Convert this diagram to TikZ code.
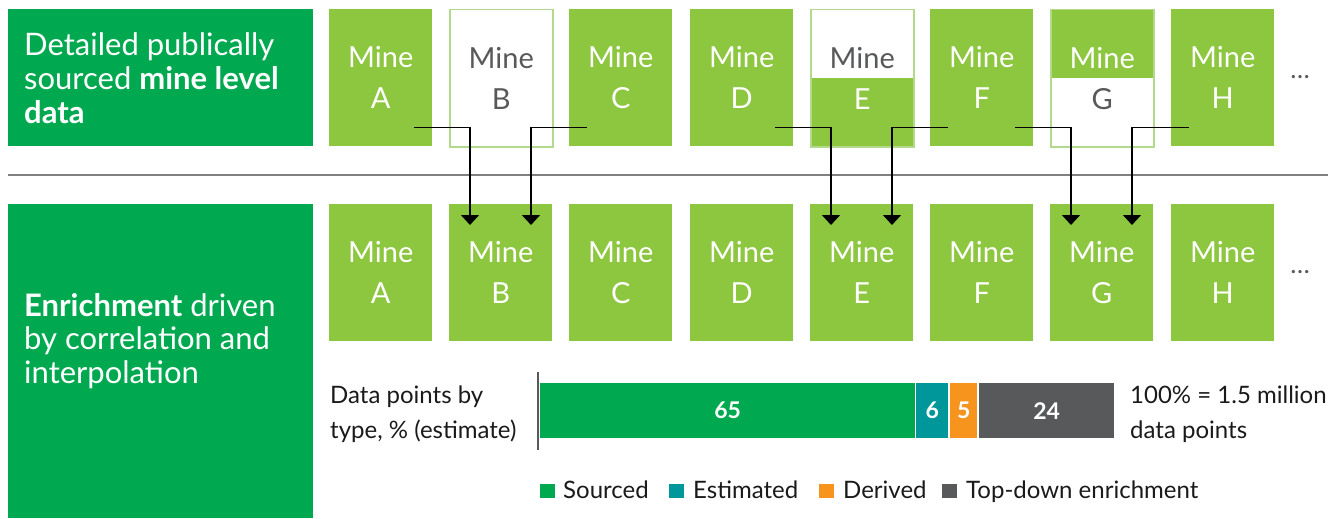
\documentclass[tikz,border=0pt]{standalone}
\usepackage{fontspec}
\setmainfont{Lato}
\usetikzlibrary{arrows.meta}
\definecolor{dgreen}{HTML}{00A94F}
\definecolor{lgreen}{HTML}{8DC63F}
\definecolor{outl}{HTML}{B3D98C}
\definecolor{tealc}{HTML}{00979A}
\definecolor{orangec}{HTML}{F7941D}
\definecolor{dgray}{HTML}{58595B}
\definecolor{sepgray}{HTML}{808080}
\definecolor{txt}{HTML}{1A1A1A}
\begin{document}
\begin{tikzpicture}[x=1pt,y=-1pt,
  minebox/.style={rectangle, minimum width=103pt, minimum height=137pt, inner sep=0pt,
    anchor=north west, align=center, font=\fontsize{29}{41}\selectfont},
  minefull/.style={minebox, fill=lgreen, text=white},
  mineempty/.style={minebox, fill=white, draw=outl, line width=1.5pt, text=dgray},
  uppwhite/.style={minebox, fill=lgreen, draw=outl, line width=1.5pt, text=white,
    path picture={\fill[white] (path picture bounding box.north west) rectangle (path picture bounding box.east);}},
  lowwhite/.style={minebox, fill=white, draw=outl, line width=1.5pt, text=white,
    path picture={\fill[lgreen] (path picture bounding box.north west) rectangle (path picture bounding box.east);}},
  headbox/.style={rectangle, fill=dgreen, inner sep=0pt, anchor=north west},
  headtxt/.style={anchor=base west, inner sep=0pt, align=left, text=white, font=\fontsize{31}{34}\selectfont},
  conn/.style={draw=black, line width=1.5pt, -{Triangle[width=18pt,length=10pt]}},
  seg/.style={rectangle, inner sep=0pt, minimum height=55pt, anchor=north west, text=white,
    font=\fontsize{23}{26}\selectfont\bfseries},
  lbl/.style={anchor=base west, inner sep=0pt, align=left, text=txt, font=\fontsize{24}{35}\selectfont},
  legsq/.style={rectangle, inner sep=0pt, minimum width=15pt, minimum height=14pt, anchor=north west},
  legtxt/.style={anchor=base west, inner sep=0pt, text=txt, font=\fontsize{24}{26}\selectfont},
  dots/.style={anchor=center, inner sep=0pt, text=dgray, font=\fontsize{26}{30}\selectfont}
]
\useasboundingbox (0,0) rectangle (1328,519);

% left headers
\node[headbox, minimum width=305pt, minimum height=137pt] (h1) at (8,9) {};
\node[headtxt] (h1t) at (24,123) {Detailed publically\\sourced \textbf{mine level}\\\textbf{data}};
\node[headbox, minimum width=305pt, minimum height=314pt] (h2) at (8,204) {};
\node[headtxt, font=\fontsize{31}{33.5}\selectfont] (h2t) at (24,383) {\textbf{Enrichment} driven\\by correlation and\\interpolation};

% separator
\draw[sepgray, line width=1.2pt] (8,175) -- (1328,175);

% top row
\node[minefull] (tA) at (329,9) {Mine\\A};
\node[mineempty] (tB) at (449,9) {Mine\\B};
\node[minefull] (tC) at (569,9) {Mine\\C};
\node[minefull] (tD) at (690,9) {Mine\\D};
\node[uppwhite] (tE) at (810,9) {{\color{dgray}Mine}\\E};
\node[minefull] (tF) at (930,9) {Mine\\F};
\node[lowwhite] (tG) at (1050,9) {Mine\\{\color{dgray}G}};
\node[minefull] (tH) at (1171,9) {Mine\\H};
\node[dots] (d1) at (1300,77) {\ldots};

% bottom row
\node[minefull] (bA) at (329,204) {Mine\\A};
\node[minefull] (bB) at (449,204) {Mine\\B};
\node[minefull] (bC) at (569,204) {Mine\\C};
\node[minefull] (bD) at (690,204) {Mine\\D};
\node[minefull] (bE) at (810,204) {Mine\\E};
\node[minefull] (bF) at (930,204) {Mine\\F};
\node[minefull] (bG) at (1050,204) {Mine\\G};
\node[minefull] (bH) at (1171,204) {Mine\\H};
\node[dots] (d2) at (1300,272) {\ldots};

% connectors
\draw[conn] ([xshift=-18pt,yshift=19pt]tA.south east) -| ([xshift=21pt,yshift=-21pt]bB.north west);
\draw[conn] ([xshift=18pt,yshift=19pt]tC.south west) -| ([xshift=82pt,yshift=-21pt]bB.north west);
\draw[conn] ([xshift=-18pt,yshift=19pt]tD.south east) -| ([xshift=21pt,yshift=-21pt]bE.north west);
\draw[conn] ([xshift=18pt,yshift=19pt]tF.south west) -| ([xshift=82pt,yshift=-21pt]bE.north west);
\draw[conn] ([xshift=-18pt,yshift=19pt]tF.south east) -| ([xshift=21pt,yshift=-21pt]bG.north west);
\draw[conn] ([xshift=18pt,yshift=19pt]tH.south west) -| ([xshift=82pt,yshift=-21pt]bG.north west);

% bar chart
\node[lbl] (lbl1) at (330,438) {Data points by\\type, \% (estimate)};
\draw[dgray, line width=1.5pt] (538,372) -- (538,450);
\node[seg, fill=dgreen, minimum width=375pt] (s1) at (540,383) {65};
\node[seg, fill=tealc, minimum width=32pt] (s2) at (916,383) {6};
\node[seg, fill=orangec, minimum width=27pt] (s3) at (950,383) {5};
\node[seg, fill=dgray, minimum width=135pt] (s4) at (979,383) {24};
\node[lbl] (lbl2) at (1130,438) {100\% = 1.5 million\\data points};

% legend
\node[legsq, fill=dgreen] (q1) at (540,484) {};
\node[legtxt] (l1) at (563,498) {Sourced};
\node[legsq, fill=tealc] (q2) at (669,484) {};
\node[legtxt] (l2) at (693,498) {Estimated};
\node[legsq, fill=orangec] (q3) at (819,484) {};
\node[legtxt] (l3) at (843,498) {Derived};
\node[legsq, fill=dgray] (q4) at (942,484) {};
\node[legtxt] (l4) at (966,498) {Top-down enrichment};
\end{tikzpicture}
\end{document}
